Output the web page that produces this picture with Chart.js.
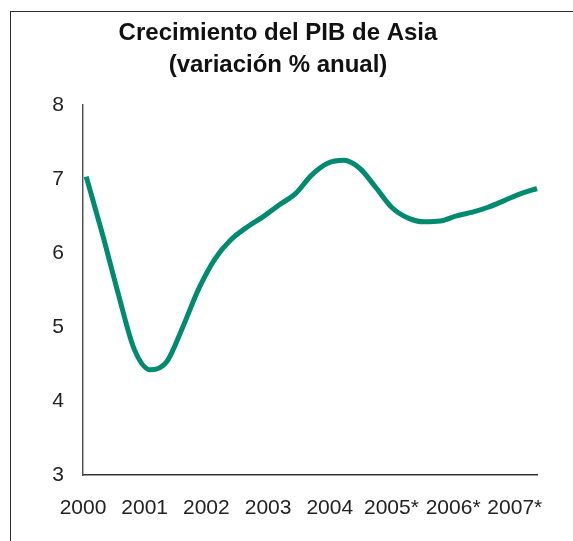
<!DOCTYPE html>
<html lang="es">
<head>
<meta charset="utf-8">
<title>Crecimiento del PIB de Asia</title>
<script src="https://cdn.jsdelivr.net/npm/chart.js@4.4.1/dist/chart.umd.min.js"></script>
<style>
  html, body { margin: 0; padding: 0; background: #fff; overflow: hidden; }
  #wrap { position: relative; width: 573px; height: 541px; }
  #frame {
    position: absolute; left: 10px; top: 11px; right: -10px; bottom: -10px;
    border-top: 1.5px solid #2a2a2a; border-left: 1.5px solid #2a2a2a;
  }
  #chart { position: absolute; left: 0; top: 0; }
</style>
</head>
<body>
<div id="wrap">
  <div id="frame"></div>
  <canvas id="chart" width="556" height="541"></canvas>
</div>
<script>
const TITLE_LINES = ['Crecimiento del PIB de Asia', '(variación % anual)'];

// year labels on the x axis (* = projection)
const yearLabels = ['2000', '2001', '2002', '2003', '2004', '2005*', '2006*', '2007*'];

// quarterly points
const periods = [
  2000, 2000.25, 2000.5, 2000.75,
  2001, 2001.25, 2001.5, 2001.75,
  2002, 2002.25, 2002.5, 2002.75,
  2003, 2003.25, 2003.5, 2003.75,
  2004, 2004.25, 2004.5, 2004.75,
  2005, 2005.25, 2005.5, 2005.75,
  2006, 2006.25, 2006.5, 2006.75,
  2007
];
const gdpGrowth = [
  7.03, 6.26, 5.44, 4.69,
  4.42, 4.53, 5.00, 5.52,
  5.92, 6.18, 6.35, 6.49,
  6.65, 6.80, 7.05, 7.21,
  7.25, 7.14, 6.88, 6.61,
  6.47, 6.42, 6.43, 6.50,
  6.55, 6.62, 6.71, 6.80,
  6.87
];
const yTicks = [3, 4, 5, 6, 7, 8];

const FONT = "'Liberation Sans', Arial, sans-serif";
const LINE_COLOR = '#008a70';
const AXIS_COLOR = '#333';

function buildChart() {
  const ctx = document.getElementById('chart');
  const points = periods.map((p, i) => ({ x: p, y: gdpGrowth[i] }));

  new Chart(ctx, {
    type: 'line',
    data: {
      datasets: [
        {
          data: points,
          xAxisID: 'xData',
          yAxisID: 'y',
          borderColor: LINE_COLOR,
          borderWidth: 5,
          pointRadius: 0,
          fill: false,
          cubicInterpolationMode: 'monotone',
          clip: false
        }
      ]
    },
    options: {
      responsive: false,
      animation: false,
      layout: { padding: 0 },
      plugins: {
        legend: { display: false },
        tooltip: { enabled: false },
        title: {
          display: true,
          text: TITLE_LINES,
          color: '#111',
          font: { family: FONT, size: 24, weight: 'bold', lineHeight: 1.33 },
          padding: { top: 17, bottom: 24 }
        }
      },
      scales: {
        xData: {
          type: 'linear',
          display: false,
          min: 1999.95,
          max: 2007
        },
        x: {
          type: 'linear',
          position: 'bottom',
          min: 2000,
          max: 2007.36,
          grid: { display: false, drawTicks: false },
          border: { display: true, color: AXIS_COLOR, width: 1.5 },
          ticks: {
            autoSkip: false,
            maxRotation: 0,
            padding: 21,
            color: '#222',
            font: { family: FONT, size: 21 },
            callback: v => yearLabels[Math.round(v - 2000)]
          },
          // one tick per year label
          afterBuildTicks: s => {
            s.ticks = yearLabels.map((_, i) => ({ value: 2000 + i }));
          },
          afterFit: s => {
            s.height = 66;
            s.paddingLeft = 0;
            s.paddingRight = 19;
          }
        },
        y: {
          type: 'linear',
          min: yTicks[0],
          max: yTicks[yTicks.length - 1],
          grid: { display: false, drawTicks: false },
          border: { display: true, color: '#555', width: 1.5 },
          ticks: {
            stepSize: 1,
            padding: 19,
            color: '#222',
            font: { family: FONT, size: 21 }
          },
          afterFit: s => {
            s.width = 83;
            s.paddingTop = 0;
            s.paddingBottom = 0;
          }
        }
      }
    }
  });
}

document.addEventListener('DOMContentLoaded', buildChart);
</script>
</body>
</html>
